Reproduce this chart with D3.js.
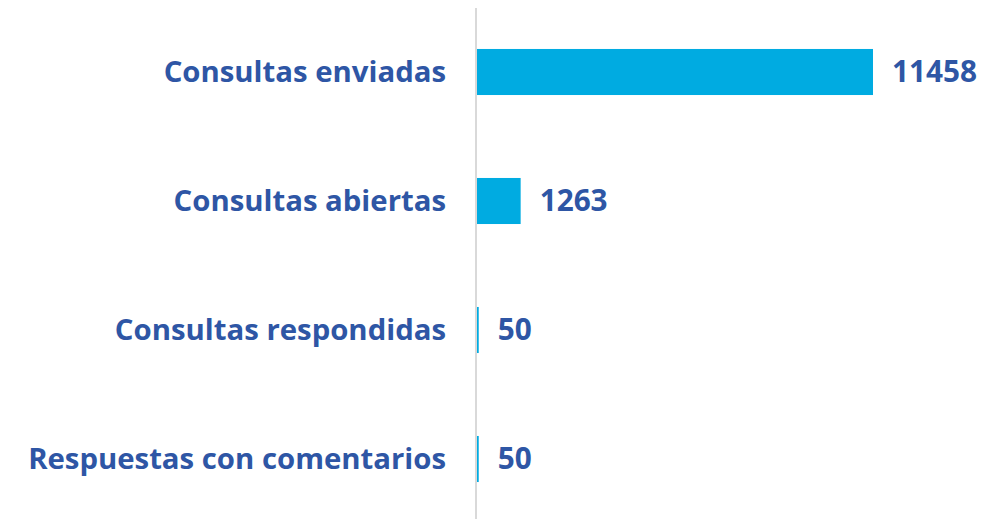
<!DOCTYPE html>
<html><head><meta charset="utf-8">
<script src="https://cdn.jsdelivr.net/npm/d3@7"></script>
<style>body{margin:0;background:#fff;}svg{display:block;}</style>
</head><body>
<svg id="c" width="1008" height="519"></svg>
<script>
const categories = ["Consultas enviadas","Consultas abiertas","Consultas respondidas","Respuestas con comentarios"];
const values = [11458, 1263, 50, 50];

const svg = d3.select("#c");
const textColor = "#2E56A5";
const barColor = "#00ABE1";
const font = "'Open Sans', sans-serif";

const x = d3.scaleLinear().domain([0, 11458]).range([477, 873]);
const y = d3.scaleBand().domain(categories).range([7.5, 523.5]).paddingInner(0.643).paddingOuter(0.3215);

// axis line
svg.append("line").attr("x1",476).attr("x2",476).attr("y1",8).attr("y2",519)
  .attr("stroke","#d9d9d9").attr("stroke-width",2);

svg.selectAll("rect.bar").data(values).enter().append("rect")
  .attr("class","bar")
  .attr("x", x(0))
  .attr("y", (d,i)=>y(categories[i]))
  .attr("width", d=>Math.max(1, x(d)-x(0)))
  .attr("height", y.bandwidth())
  .attr("fill", barColor);

// category labels
const labels = svg.selectAll("text.cat").data(categories).enter().append("text")
  .attr("class","cat")
  .attr("x", 446)
  .attr("y", d=>y(d)+y.bandwidth()/2)
  .attr("dy","0.35em")
  .attr("text-anchor","end")
  .attr("font-family", font).attr("font-weight", 700)
  .attr("font-size", 28)
  .attr("fill", textColor)
  .text(d=>d);
// fit font size so longest label spans ~418px
const longest = labels.filter(d=>d==="Respuestas con comentarios").node();
const w = longest.getComputedTextLength();
labels.attr("font-size", 28*418/w);

const vals = svg.selectAll("text.val").data(values).enter().append("text")
  .attr("class","val")
  .attr("x", d=>x(d)+19)
  .attr("y", (d,i)=>y(categories[i])+y.bandwidth()/2)
  .attr("dy","0.35em")
  .attr("font-family", font).attr("font-weight", 700)
  .attr("font-size", 28)
  .attr("fill", textColor)
  .text(d=>d);
const vw = vals.filter((d,i)=>i===0).node().getComputedTextLength();
vals.attr("font-size", 28*85/vw);
</script>
</body></html>
